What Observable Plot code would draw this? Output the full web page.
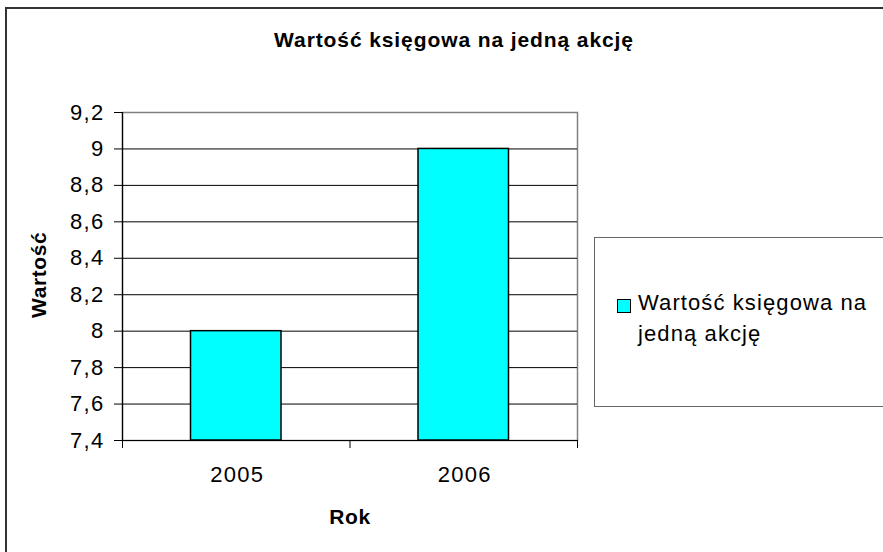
<!DOCTYPE html>
<html>
<head>
<meta charset="utf-8">
<script src="https://cdn.jsdelivr.net/npm/d3@7"></script>
<script src="https://cdn.jsdelivr.net/npm/@observablehq/plot@0.6"></script>
<style>
  html, body { margin: 0; padding: 0; background: #fff; }
  #wrap { position: relative; width: 883px; height: 552px; overflow: hidden; background: #fff;
          font-family: "Liberation Sans", Arial, Helvetica, sans-serif; color: #000; }
  #chart { position: absolute; left: 0; top: 0; }
  #chart svg text { letter-spacing: 1.3px; }
  .abs { position: absolute; white-space: nowrap; }
  #outer { left: 5px; top: 7px; width: 2000px; height: 2000px; border-left: 2px solid #333; border-top: 2px solid #333; }
  #title { left: 0; width: 908px; top: 29px; text-align: center; font-weight: bold; font-size: 21px; line-height: 21px; letter-spacing: 0.9px; }
  #ytitle { left: 28px; top: 318px; transform: rotate(-90deg); transform-origin: 0 0; font-weight: bold; font-size: 21px; line-height: 21px; letter-spacing: 0.6px; }
  #xtitle { left: 0; width: 700px; top: 506px; text-align: center; font-weight: bold; font-size: 21px; line-height: 21px; letter-spacing: 0.6px; }
  #legend { left: 594px; top: 237px; width: 400px; height: 168px; border: 1px solid #666; }
  #swatch { left: 617px; top: 299px; width: 12px; height: 12px; border: 1px solid #000; }
  #legtext { left: 638px; top: 287px; font-size: 22px; line-height: 31px; letter-spacing: 1.1px; }
</style>
</head>
<body>
<div id="wrap">
  <div id="chart"></div>
  <div id="outer" class="abs"></div>
  <div id="title" class="abs"></div>
  <div id="ytitle" class="abs"></div>
  <div id="xtitle" class="abs"></div>
  <div id="legend" class="abs"></div>
  <div id="swatch" class="abs"></div>
  <div id="legtext" class="abs"></div>
</div>
<script>
// ---- data ----
const years = ["2005", "2006"];
const values = [8.0, 9.0];
const yTicks = [7.4, 7.6, 7.8, 8.0, 8.2, 8.4, 8.6, 8.8, 9.0, 9.2];
const chartTitle = "Wartość księgowa na jedną akcję";
const seriesName = "Wartość księgowa na jedną akcję";
const legendLines = ["Wartość księgowa na", "jedną akcję"];
const xTitle = "Rok";
const yTitle = "Wartość";
const barColor = "#00FFFF";

const yMin = yTicks[0];
const yMax = yTicks[yTicks.length - 1];
const data = years.map((year, i) => ({year, i, value: values[i]}));
const barInset = 68.5;

const plot = Plot.plot({
  width: 883,
  height: 552,
  marginLeft: 122,
  marginRight: 306,
  marginTop: 112,
  marginBottom: 112,
  style: {fontFamily: "'Liberation Sans', Arial, sans-serif", fontSize: "22px", color: "#000", background: "transparent"},
  x: {domain: [0, years.length], axis: null},
  y: {domain: [yMin, yMax], axis: null},
  marks: [
    Plot.frame({stroke: "#808080", strokeWidth: 1.5}),
    Plot.gridY({ticks: yTicks.filter(t => t < yMax), stroke: "#000", strokeOpacity: 1, strokeWidth: 1}),
    Plot.rectY(data, {x1: "i", x2: d => d.i + 1, y1: yMin, y2: "value",
      insetLeft: barInset, insetRight: barInset, fill: barColor, stroke: "#000", strokeWidth: 1.5}),
    Plot.ruleX([0], {stroke: "#000", strokeWidth: 1.2}),
    Plot.ruleY([yMin], {stroke: "#000", strokeWidth: 1.2}),
    Plot.axisY({ticks: yTicks, tickSize: 8, tickPadding: 10, tickFormat: d => String(d).replace(".", ","), label: null, fontSize: 22}),
    Plot.axisX({ticks: d3.range(years.length + 1), tickSize: 8, tickFormat: () => "", label: null}),
    Plot.text(data, {x: d => d.i + 0.5, y: yMin, text: "year", dy: 34.5, dx: 1, fontSize: 22})
  ]
});
document.getElementById("chart").appendChild(plot);

document.getElementById("title").textContent = chartTitle;
document.getElementById("ytitle").textContent = yTitle;
document.getElementById("xtitle").textContent = xTitle;
document.getElementById("swatch").style.background = barColor;
document.getElementById("legtext").innerHTML = legendLines.join("<br>");
document.getElementById("legtext").title = seriesName;
</script>
</body>
</html>
